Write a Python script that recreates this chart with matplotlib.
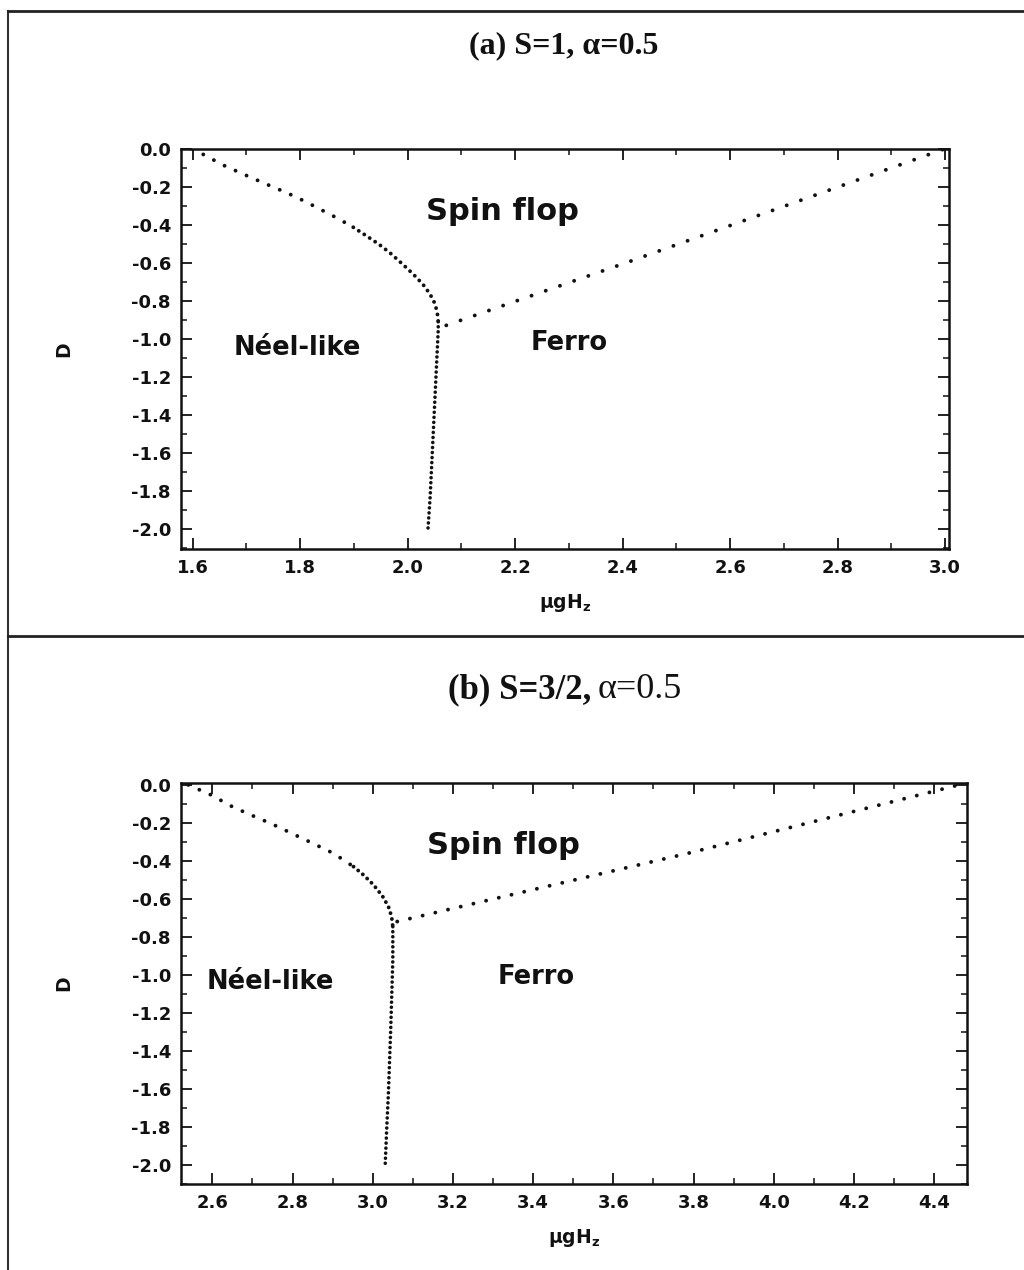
import matplotlib
matplotlib.use('Agg')
import matplotlib.pyplot as plt
from matplotlib.ticker import MultipleLocator, FormatStrFormatter
from matplotlib.lines import Line2D

plt.rcParams['font.family'] = ['DejaVu Sans']
plt.rcParams['mathtext.fontset'] = 'dejavusans'

# ---------------- data: panel (a) S=1, alpha=0.5 ----------------
neel_a_H = [1.600, 1.628, 1.654, 1.695, 1.734, 1.775, 1.808, 1.840, 1.870, 1.899,
            1.924, 1.947, 1.967, 1.984, 2.001, 2.017, 2.031, 2.042, 2.050, 2.055,
            2.057, 2.057, 2.054, 2.051, 2.048, 2.045, 2.042, 2.038]
neel_a_D = [0.000, -0.040, -0.081, -0.133, -0.181, -0.230, -0.274, -0.321, -0.365, -0.412,
            -0.458, -0.502, -0.546, -0.589, -0.633, -0.677, -0.721, -0.765, -0.809, -0.856,
            -0.909, -0.953, -1.128, -1.304, -1.479, -1.654, -1.830, -1.996]
ferro_a_H = [2.072, 2.407, 2.998]
ferro_a_D = [-0.928, -0.598, 0.000]

# ---------------- data: panel (b) S=3/2, alpha=0.5 ----------------
neel_b_H = [2.540, 2.597, 2.650, 2.698, 2.748, 2.798, 2.848, 2.902, 2.952, 2.977,
            3.002, 3.025, 3.039, 3.047, 3.050, 3.050, 3.045, 3.039, 3.035, 3.031]
neel_b_D = [0.000, -0.053, -0.115, -0.160, -0.205, -0.255, -0.305, -0.360, -0.430, -0.474,
            -0.526, -0.588, -0.640, -0.693, -0.746, -0.921, -1.272, -1.623, -1.798, -2.000]
ferro_b_H = [3.061, 3.786, 4.462]
ferro_b_D = [-0.719, -0.360, 0.000]

x_ticks_a = [1.6, 1.8, 2.0, 2.2, 2.4, 2.6, 2.8, 3.0]
x_ticks_b = [2.6, 2.8, 3.0, 3.2, 3.4, 3.6, 3.8, 4.0, 4.2, 4.4]
y_ticks = [0.0, -0.2, -0.4, -0.6, -0.8, -1.0, -1.2, -1.4, -1.6, -1.8, -2.0]

W, H = 1024, 1270
fig = plt.figure(figsize=(W / 100, H / 100), dpi=100)
fig.patch.set_facecolor('white')

INK = '#111111'


def dotted(ax, xs, ys, gap_px, lw=2.8):
    lw_px = lw * 100 / 72
    ax.plot(xs, ys, color=INK, lw=lw, linestyle=(0, (0.01, gap_px / lw_px)),
            dash_capstyle='round', solid_capstyle='round')


def style_axes(ax, xticks, xlim, ylim):
    ax.set_xlim(*xlim)
    ax.set_ylim(*ylim)
    ax.set_xticks(xticks)
    ax.set_yticks(y_ticks)
    ax.xaxis.set_minor_locator(MultipleLocator(0.1))
    ax.yaxis.set_minor_locator(MultipleLocator(0.1))
    ax.xaxis.set_major_formatter(FormatStrFormatter('%.1f'))
    ax.yaxis.set_major_formatter(FormatStrFormatter('%.1f'))
    ax.tick_params(which='both', direction='in', top=True, right=True, color=INK)
    ax.tick_params(which='major', length=8, width=1.3, labelsize=13, pad=7)
    ax.tick_params(which='minor', length=4.5, width=1.1)
    for lab in ax.get_xticklabels() + ax.get_yticklabels():
        lab.set_fontweight('bold')
        lab.set_color(INK)
    for sp in ax.spines.values():
        sp.set_linewidth(1.8)
        sp.set_color(INK)


REG = dict(fontweight='bold', color=INK, ha='center', va='center')

# ---------------- panel (a) ----------------
ax1 = fig.add_axes([180.7 / W, 1 - 549 / H, (949 - 180.7) / W, 400 / H])
style_axes(ax1, x_ticks_a, (1.578, 3.007), (-2.105, 0.0))
dotted(ax1, neel_a_H[:10], neel_a_D[:10], 12)
dotted(ax1, neel_a_H[9:21], neel_a_D[9:21], 6.5)
dotted(ax1, neel_a_H[20:], neel_a_D[20:], 5.0, lw=2.6)
dotted(ax1, ferro_a_H, ferro_a_D, 15)
ax1.text(2.177, -0.33, 'Spin flop', fontsize=22, **REG)
ax1.text(1.794, -1.047, 'Néel-like', fontsize=18.5, **REG)
ax1.text(2.300, -1.02, 'Ferro', fontsize=18.5, **REG)
ax1.set_xlabel(r'μgH$_\mathbf{z}$', fontsize=13.5, fontweight='bold', color=INK, labelpad=11)
ax1.set_ylabel('D', fontsize=13.5, fontweight='bold', color=INK)
ax1.yaxis.set_label_coords(-(180.7 - 73) / (949 - 180.7), 0.5)

# ---------------- panel (b) ----------------
ax2 = fig.add_axes([180.7 / W, 1 - 1184 / H, (967 - 180.7) / W, 401 / H])
style_axes(ax2, x_ticks_b, (2.521, 4.482), (-2.1, 0.01))
dotted(ax2, neel_b_H[:9], neel_b_D[:9], 12)
dotted(ax2, neel_b_H[8:15], neel_b_D[8:15], 6)
dotted(ax2, neel_b_H[14:], neel_b_D[14:], 5.0, lw=2.6)
dotted(ax2, ferro_b_H, ferro_b_D, 13)
ax2.text(3.325, -0.32, 'Spin flop', fontsize=22, **REG)
ax2.text(2.745, -1.037, 'Néel-like', fontsize=18.5, **REG)
ax2.text(3.407, -1.01, 'Ferro', fontsize=18.5, **REG)
ax2.set_xlabel(r'μgH$_\mathbf{z}$', fontsize=13.5, fontweight='bold', color=INK, labelpad=11)
ax2.set_ylabel('D', fontsize=13.5, fontweight='bold', color=INK)
ax2.yaxis.set_label_coords(-(180.7 - 73) / (967 - 180.7), 0.5)

# ---------------- titles ----------------
serif = ['Liberation Serif', 'DejaVu Serif']
fig.text(564 / W, 1 - 46 / H, '(a) S=1, α=0.5', family=serif, fontsize=23,
         fontweight='bold', color=INK, ha='center', va='center')
fig.text(591 / W, 1 - 690 / H, '(b) S=3/2,', family=serif, fontsize=25,
         fontweight='bold', color=INK, ha='right', va='center')
fig.text(598 / W, 1 - 690 / H, 'α=0.5', family=serif, fontsize=26,
         fontweight='normal', color=INK, ha='left', va='center')

# ---------------- outer frames ----------------
fig.add_artist(Line2D([8 / W, 8 / W], [0, 1 - 11 / H], transform=fig.transFigure,
                      color='#333333', lw=1.5))
fig.add_artist(Line2D([8 / W, 1], [1 - 11 / H, 1 - 11 / H], transform=fig.transFigure,
                      color='#222222', lw=2.0))
fig.add_artist(Line2D([8 / W, 1], [1 - 636 / H, 1 - 636 / H], transform=fig.transFigure,
                      color='#222222', lw=2.0))

fig.savefig('out.png', dpi=100, facecolor='white')
